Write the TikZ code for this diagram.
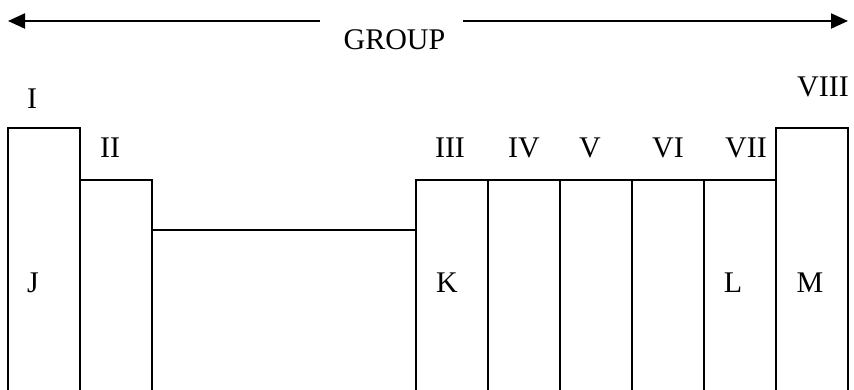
\documentclass[tikz,border=0pt]{standalone}
\usepackage{fontspec}
\setmainfont{Liberation Serif}
\usetikzlibrary{arrows.meta}
\begin{document}
\begin{tikzpicture}[x=1pt,y=-1pt,
  wall/.style={line width=2.3pt,line join=miter},
  lbl/.style={font=\fontsize{30}{36}\selectfont,inner sep=0pt,anchor=base},
  grouparrow/.style={line width=2.2pt,-{Triangle[length=17pt,width=15pt]}}]
\useasboundingbox (0,0) rectangle (854,390);
% columns
\draw[wall] (8,390) -- (8,128) -- (80,128) -- (80,390);
\draw[wall] (80,180) -- (152,180) -- (152,390);
\draw[wall] (152,230) -- (416,230);
\draw[wall] (416,390) -- (416,180) -- (776,180);
\draw[wall] (776,390) -- (776,128) -- (848,128) -- (848,390);
\foreach \x in {488,560,632,704} \draw[wall] (\x,180) -- (\x,390);
% group label and arrows
\node[lbl] (group) at (394.5,49.5) {GROUP};
\coordinate (la) at (320,21);
\coordinate (lend) at (8,21);
\coordinate (ra) at (463,21);
\coordinate (rend) at (848,21);
\draw[grouparrow] (la) -- (lend);
\draw[grouparrow] (ra) -- (rend);
% group numbers
\node[lbl] (g1) at (32,109) {I};
\node[lbl] (g2) at (110,158) {II};
\node[lbl] (g3) at (450,158) {III};
\node[lbl] (g4) at (524,158) {IV};
\node[lbl] (g5) at (590,158) {V};
\node[lbl] (g6) at (668,158) {VI};
\node[lbl] (g7) at (746,158) {VII};
\node[lbl] (g8) at (823,97) {VIII};
% block letters
\node[lbl] (J) at (33,292) {J};
\node[lbl] (K) at (447,292) {K};
\node[lbl] (L) at (733,292) {L};
\node[lbl] (M) at (810,292) {M};
\end{tikzpicture}
\end{document}
